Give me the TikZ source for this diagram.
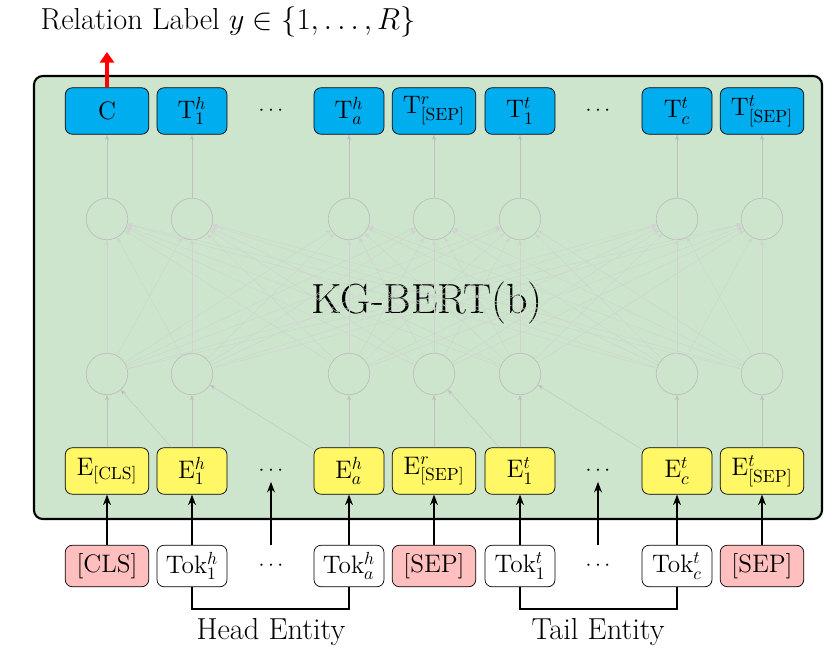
\documentclass[tikz,border=0pt]{standalone}
\usetikzlibrary{arrows.meta}
\tikzset{
  blk/.style={draw,rounded corners=4pt,minimum height=0.93cm,inner sep=1pt,font=\Large},
  topbox/.style={blk,fill=cyan},
  embbox/.style={blk,fill=yellow!60},
  tokbox/.style={draw,rounded corners=4pt,minimum height=0.83cm,inner sep=1pt,font=\Large},
  hid/.style={draw=black!25,circle,minimum size=0.83cm},
  faint/.style={draw=black!25,-{Stealth[length=3pt]},very thin},
  up/.style={semithick,-{Stealth[length=6pt]}}
}
\begin{document}
\begin{tikzpicture}[x=0.02cm,y=-0.02cm]
\useasboundingbox (0,0) rectangle (835,652);
\draw[very thick,rounded corners=5pt,fill=green!50!black!20!white] (34,76) rectangle (822,519);
\node at (228,22) {\LARGE Relation Label $y\in\{1,\ldots,R\}$};
\node[font=\fontsize{24}{28}\selectfont] at (427,303) {KG-BERT(b)};
% top outputs
\node[topbox,minimum width=1.67cm] (c) at (107,111) {C};
\node[topbox,minimum width=1.4cm] (th1) at (192,111) {T$^h_1$};
\node (td1) at (271,111) {\large$\cdots$};
\node[topbox,minimum width=1.4cm] (tha) at (349,111) {T$^h_a$};
\node[topbox,minimum width=1.67cm] (tr) at (434,111) {T$^r_{\mathrm{[SEP]}}$};
\node[topbox,minimum width=1.4cm] (tt1) at (520,111) {T$^t_1$};
\node (td2) at (598,111) {\large$\cdots$};
\node[topbox,minimum width=1.4cm] (ttc) at (677,111) {T$^t_c$};
\node[topbox,minimum width=1.67cm] (tt) at (762,111) {T$^t_{\mathrm{[SEP]}}$};
% embeddings
\node[embbox,minimum width=1.67cm] (ecls) at (107,471) {E$_{\mathrm{[CLS]}}$};
\node[embbox,minimum width=1.4cm] (eh1) at (192,471) {E$^h_1$};
\node (ed1) at (271,471) {\large$\cdots$};
\node[embbox,minimum width=1.4cm] (eha) at (349,471) {E$^h_a$};
\node[embbox,minimum width=1.67cm] (er) at (434,471) {E$^r_{\mathrm{[SEP]}}$};
\node[embbox,minimum width=1.4cm] (et1) at (520,471) {E$^t_1$};
\node (ed2) at (598,471) {\large$\cdots$};
\node[embbox,minimum width=1.4cm] (etc) at (677,471) {E$^t_c$};
\node[embbox,minimum width=1.67cm] (et) at (762,471) {E$^t_{\mathrm{[SEP]}}$};
% tokens
\node[tokbox,fill=red!25,minimum width=1.67cm] (kcls) at (107,566) {[CLS]};
\node[tokbox,minimum width=1.4cm] (kh1) at (192,566) {Tok$^h_1$};
\node (kd1) at (271,566) {\large$\cdots$};
\node[tokbox,minimum width=1.4cm] (kha) at (349,566) {Tok$^h_a$};
\node[tokbox,fill=red!25,minimum width=1.67cm] (kr) at (434,566) {[SEP]};
\node[tokbox,minimum width=1.4cm] (kt1) at (520,566) {Tok$^t_1$};
\node (kd2) at (598,566) {\large$\cdots$};
\node[tokbox,minimum width=1.4cm] (ktc) at (677,566) {Tok$^t_c$};
\node[tokbox,fill=red!25,minimum width=1.67cm] (kt) at (762,566) {[SEP]};
% hidden layers
\foreach \n/\x in {1/107,2/192,3/349,4/434,5/520,6/677,7/762}{
  \node[hid] (lo\n) at (\x,374) {};
  \node[hid] (hi\n) at (\x,219) {};
}
\foreach \i in {1,...,7}{
  \foreach \j in {1,...,7}{
    \draw[faint,draw=black!18] (lo\i) -- (hi\j);
  }
}
\foreach \e/\n in {ecls/1,eh1/2,eha/3,er/4,et1/5,etc/6,et/7}
  \draw[faint] (\e) -- (lo\n);
\foreach \t/\n in {c/1,th1/2,tha/3,tr/4,tt1/5,ttc/6,tt/7}
  \draw[faint] (hi\n) -- (\t);
\draw[faint] (eh1) -- (lo1);
\draw[faint] (eha) -- (lo2);
\draw[faint] (et1) -- (lo4);
\draw[faint] (etc) -- (lo5);
% input arrows
\foreach \k/\e in {kcls/ecls,kh1/eh1,kha/eha,kr/er,kt1/et1,ktc/etc,kt/et}
  \draw[up] (\k) -- (\e);
\draw[up] (271,545) -- (ed1.south);
\draw[up] (598,545) -- (ed2.south);
\draw[red,line width=2.5pt,-{Triangle[length=6pt,width=8pt]}] (c.north) -- (107,52);
% entity brackets
\draw[semithick] (kh1.south) -- (192,609) -| (kha.south);
\draw[semithick] (kt1.south) -- (520,609) -| (ktc.south);
\node[font=\LARGE] (head) at (271,632) {Head Entity};
\node[font=\LARGE] (tail) at (598,632) {Tail Entity};
\end{tikzpicture}
\end{document}
